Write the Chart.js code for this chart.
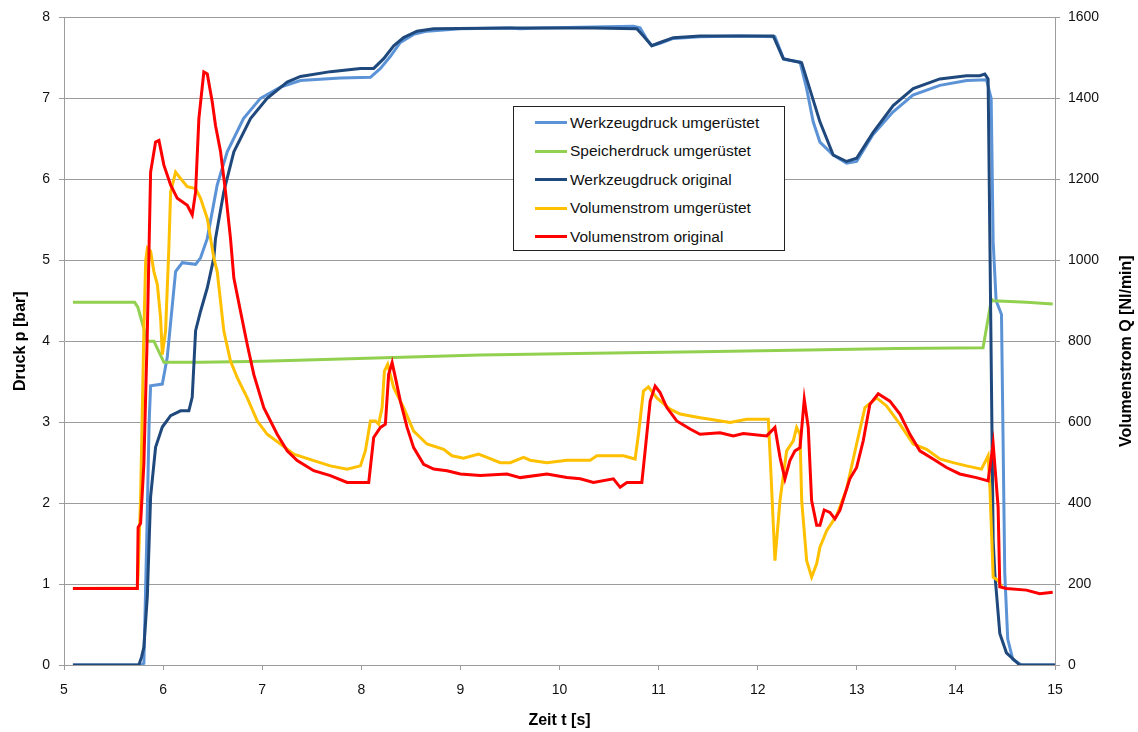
<!DOCTYPE html>
<html lang="de">
<head>
<meta charset="utf-8">
<title>Werkzeugdruck und Volumenstrom</title>
<script src="https://cdn.jsdelivr.net/npm/chart.js@4.4.1/dist/chart.umd.min.js"></script>
<style>
  html, body { margin: 0; padding: 0; background: #fff; }
  #wrap { position: relative; width: 1138px; height: 732px; }
  #legend {
    position: absolute; left: 513px; top: 106px; width: 270px; height: 143px;
    border: 1px solid #222; background: #fff;
    font: 15.5px "Liberation Sans", Arial, sans-serif; color: #111;
  }
  #legend .row { position: absolute; left: 21px; height: 20px; line-height: 20px; white-space: nowrap; }
  #legend .swatch { display: inline-block; width: 32px; height: 3px; vertical-align: middle; margin: -2px 3px 0 0; }
</style>
</head>
<body>
<div id="wrap">
  <canvas id="chart" width="1138" height="732"></canvas>
  <div id="legend"></div>
</div>
<script>
// Zeitachse [s] und Messwerte je Kurve (Druck in bar, Volumenstrom in Nl/min)
const seriesNames = [
  'Werkzeugdruck umgerüstet',
  'Speicherdruck umgerüstet',
  'Werkzeugdruck original',
  'Volumenstrom umgerüstet',
  'Volumenstrom original'
];

const tWerkUm = [5.09, 5.78, 5.806, 5.834, 5.859, 5.874, 5.992, 6.042, 6.126, 6.194, 6.328, 6.378, 6.446, 6.546, 6.647, 6.811, 6.982, 7.184, 7.385, 7.788, 8.092, 8.193, 8.294, 8.394, 8.528, 8.663, 8.999, 9.503, 9.604, 9.806, 10.746, 10.813, 10.881, 10.931, 11.015, 11.149, 11.418, 11.822, 12.174, 12.265, 12.427, 12.494, 12.56, 12.628, 12.762, 12.897, 12.998, 13.162, 13.364, 13.566, 13.838, 14.11, 14.308, 14.356, 14.376, 14.406, 14.46, 14.493, 14.523, 14.574, 14.661, 15.0];
const pWerkUm = [0, 0, 0.02, 1.5, 3.0, 3.45, 3.47, 3.8, 4.86, 4.97, 4.95, 5.03, 5.27, 5.93, 6.34, 6.75, 7.0, 7.14, 7.22, 7.25, 7.26, 7.37, 7.52, 7.69, 7.79, 7.83, 7.86, 7.87, 7.86, 7.87, 7.89, 7.87, 7.73, 7.65, 7.68, 7.74, 7.76, 7.77, 7.76, 7.48, 7.45, 7.12, 6.71, 6.46, 6.30, 6.20, 6.22, 6.55, 6.83, 7.04, 7.16, 7.22, 7.23, 7.0, 5.23, 4.5, 4.33, 1.14, 0.32, 0.07, 0, 0];

const tSpeicher = [5.09, 5.713, 5.745, 5.841, 5.907, 6.008, 6.378, 6.882, 7.184, 8.058, 9.201, 10.343, 11.418, 12.5, 13.4, 14.274, 14.359, 14.376, 14.712, 14.977];
const pSpeicher = [4.48, 4.48, 4.42, 4.0, 4.0, 3.74, 3.74, 3.75, 3.76, 3.79, 3.83, 3.85, 3.87, 3.89, 3.91, 3.92, 4.52, 4.5, 4.48, 4.46];

const tWerkOrig = [5.09, 5.756, 5.783, 5.806, 5.841, 5.874, 5.924, 5.992, 6.076, 6.176, 6.26, 6.294, 6.328, 6.378, 6.446, 6.512, 6.529, 6.613, 6.714, 6.882, 7.05, 7.252, 7.386, 7.689, 7.991, 8.125, 8.226, 8.327, 8.427, 8.562, 8.73, 9.47, 10.343, 10.78, 10.847, 10.931, 11.015, 11.149, 11.418, 12.157, 12.258, 12.443, 12.494, 12.628, 12.762, 12.897, 12.998, 13.165, 13.367, 13.569, 13.838, 14.107, 14.241, 14.292, 14.325, 14.343, 14.376, 14.393, 14.443, 14.51, 14.644, 15.0];
const pWerkOrig = [0, 0, 0.1, 0.22, 0.85, 2.08, 2.69, 2.94, 3.08, 3.14, 3.14, 3.31, 4.13, 4.37, 4.66, 5.03, 5.27, 5.85, 6.34, 6.75, 7.0, 7.2, 7.27, 7.33, 7.37, 7.37, 7.49, 7.65, 7.75, 7.83, 7.86, 7.87, 7.87, 7.86, 7.77, 7.65, 7.69, 7.75, 7.77, 7.77, 7.49, 7.44, 7.24, 6.71, 6.30, 6.22, 6.26, 6.58, 6.91, 7.12, 7.24, 7.28, 7.28, 7.30, 7.24, 5.23, 1.54, 1.13, 0.39, 0.15, 0, 0];

const tVolUm = [5.09, 5.74, 5.748, 5.773, 5.806, 5.824, 5.841, 5.874, 5.907, 5.942, 5.975, 5.992, 6.025, 6.058, 6.076, 6.126, 6.176, 6.244, 6.328, 6.378, 6.446, 6.512, 6.546, 6.613, 6.68, 6.748, 6.849, 6.95, 7.05, 7.184, 7.319, 7.52, 7.688, 7.857, 7.991, 8.041, 8.092, 8.142, 8.175, 8.21, 8.233, 8.266, 8.327, 8.427, 8.528, 8.663, 8.831, 8.915, 9.032, 9.183, 9.268, 9.402, 9.503, 9.637, 9.704, 9.873, 10.075, 10.31, 10.377, 10.645, 10.763, 10.797, 10.847, 10.897, 10.982, 11.116, 11.217, 11.418, 11.519, 11.721, 11.889, 12.107, 12.131, 12.174, 12.225, 12.292, 12.359, 12.393, 12.427, 12.444, 12.494, 12.544, 12.595, 12.628, 12.696, 12.796, 12.897, 12.998, 13.082, 13.2, 13.3, 13.435, 13.569, 13.704, 13.838, 13.972, 14.107, 14.258, 14.325, 14.343, 14.376, 14.426, 14.47];
const qVolUm = [189, 190, 226, 414, 825, 997, 1030, 1022, 972, 940, 857, 767, 825, 1030, 1169, 1218, 1202, 1182, 1177, 1153, 1103, 1005, 972, 825, 751, 710, 660, 603, 570, 546, 521, 505, 492, 484, 492, 529, 603, 603, 595, 636, 726, 743, 685, 636, 578, 546, 533, 517, 511, 521, 513, 500, 500, 513, 506, 500, 506, 506, 517, 517, 509, 570, 677, 687, 660, 632, 620, 611, 607, 599, 607, 607, 488, 258, 406, 529, 554, 587, 570, 406, 258, 217, 250, 291, 332, 369, 435, 546, 636, 660, 640, 595, 546, 533, 509, 500, 492, 484, 517, 439, 217, 209, 190];

const tVolOrig = [5.09, 5.74, 5.748, 5.773, 5.806, 5.841, 5.874, 5.924, 5.958, 6.008, 6.076, 6.143, 6.244, 6.294, 6.328, 6.361, 6.411, 6.446, 6.496, 6.529, 6.58, 6.63, 6.68, 6.714, 6.781, 6.849, 6.915, 7.016, 7.151, 7.252, 7.353, 7.52, 7.688, 7.857, 8.075, 8.125, 8.193, 8.243, 8.276, 8.311, 8.344, 8.394, 8.462, 8.528, 8.629, 8.73, 8.865, 8.999, 9.201, 9.47, 9.604, 9.873, 10.075, 10.209, 10.343, 10.544, 10.612, 10.68, 10.831, 10.864, 10.915, 10.965, 11.015, 11.083, 11.183, 11.318, 11.418, 11.62, 11.754, 11.855, 12.091, 12.174, 12.225, 12.275, 12.325, 12.376, 12.427, 12.47, 12.51, 12.544, 12.595, 12.628, 12.671, 12.729, 12.779, 12.829, 12.93, 12.998, 13.065, 13.132, 13.216, 13.334, 13.435, 13.536, 13.636, 13.77, 13.905, 14.039, 14.207, 14.325, 14.376, 14.426, 14.443, 14.51, 14.712, 14.846, 14.977];
const qVolOrig = [189, 189, 340, 350, 497, 825, 1218, 1292, 1296, 1235, 1186, 1153, 1136, 1112, 1169, 1350, 1465, 1460, 1391, 1333, 1268, 1169, 1054, 956, 874, 792, 718, 636, 570, 529, 505, 480, 468, 451, 451, 562, 587, 595, 718, 747, 710, 652, 587, 537, 496, 484, 480, 472, 468, 472, 463, 472, 463, 460, 451, 460, 439, 451, 451, 529, 652, 689, 673, 636, 603, 583, 570, 574, 566, 572, 566, 587, 513, 460, 505, 529, 537, 656, 587, 406, 345, 345, 383, 377, 361, 382, 460, 488, 554, 644, 670, 652, 620, 570, 529, 509, 488, 472, 463, 455, 546, 390, 193, 189, 185, 176, 180];

const pts = (t, v) => t.map((x, i) => ({ x, y: v[i] }));

const fontFamily = '"Liberation Sans", Arial, sans-serif';
const gridColor = '#9c9c9c';
const plainNumber = v => String(v);

const datasets = [
  { label: seriesNames[0], data: pts(tWerkUm, pWerkUm), borderColor: '#5b93d6', yAxisID: 'y', order: 5 },
  { label: seriesNames[1], data: pts(tSpeicher, pSpeicher), borderColor: '#92d050', yAxisID: 'y', order: 4 },
  { label: seriesNames[2], data: pts(tWerkOrig, pWerkOrig), borderColor: '#1f497d', yAxisID: 'y', order: 3 },
  { label: seriesNames[3], data: pts(tVolUm, qVolUm), borderColor: '#ffc000', yAxisID: 'y1', order: 2 },
  { label: seriesNames[4], data: pts(tVolOrig, qVolOrig), borderColor: '#ff0000', yAxisID: 'y1', order: 1 }
].map(ds => Object.assign(ds, { borderWidth: 3, pointRadius: 0, tension: 0, fill: false }));

// rechte Achsenbeschriftung von unten nach oben lesbar
const rightTitle = {
  id: 'rightTitle',
  afterDraw(chart) {
    const { ctx, chartArea } = chart;
    const x = chart.scales.y1.right - 11;
    ctx.save();
    ctx.translate(x, (chartArea.top + chartArea.bottom) / 2 + 10);
    ctx.rotate(-Math.PI / 2);
    ctx.font = 'bold 16px ' + fontFamily;
    ctx.fillStyle = '#000';
    ctx.textAlign = 'center';
    ctx.textBaseline = 'middle';
    ctx.fillText('Volumenstrom Q [Nl/min]', 0, 0);
    ctx.restore();
  }
};

new Chart(document.getElementById('chart'), {
  type: 'line',
  data: { datasets },
  plugins: [rightTitle],
  options: {
    responsive: false,
    animation: false,
    layout: { padding: { top: 15, left: 0, right: 0, bottom: 0 } },
    plugins: { legend: { display: false }, tooltip: { enabled: false } },
    scales: {
      x: {
        type: 'linear', min: 5, max: 15,
        ticks: { stepSize: 1, padding: 12, color: '#111', callback: plainNumber, font: { family: fontFamily, size: 14 } },
        grid: { drawOnChartArea: false, tickLength: 5, color: gridColor },
        border: { color: gridColor },
        title: { display: true, text: 'Zeit t [s]', color: '#000', padding: { top: 0, bottom: 2 },
                 font: { family: fontFamily, size: 16, weight: 'bold' } },
        afterFit: s => { s.height = 67; }
      },
      y: {
        position: 'left', min: 0, max: 8,
        ticks: { stepSize: 1, padding: 9, color: '#111', callback: plainNumber, font: { family: fontFamily, size: 14 } },
        grid: { tickLength: 5, color: gridColor },
        border: { color: gridColor },
        title: { display: true, text: 'Druck p [bar]', color: '#000', padding: { top: 11, bottom: 0 },
                 font: { family: fontFamily, size: 16, weight: 'bold' } },
        afterFit: s => { s.width = 64; }
      },
      y1: {
        position: 'right', min: 0, max: 1600,
        ticks: { stepSize: 200, padding: 8, color: '#111', callback: plainNumber, font: { family: fontFamily, size: 14 } },
        grid: { drawOnChartArea: false, tickLength: 5, color: gridColor },
        border: { color: gridColor },
        afterFit: s => { s.width = 83; }
      }
    }
  }
});

// Legende als Kasten im Diagramm
const legendColors = datasets.map(ds => ds.borderColor);
const legend = document.getElementById('legend');
seriesNames.forEach((name, i) => {
  const row = document.createElement('div');
  row.className = 'row';
  row.style.top = (6 + i * 28.4) + 'px';
  const sw = document.createElement('span');
  sw.className = 'swatch';
  sw.style.background = legendColors[i];
  row.appendChild(sw);
  row.appendChild(document.createTextNode(name));
  legend.appendChild(row);
});
</script>
</body>
</html>
